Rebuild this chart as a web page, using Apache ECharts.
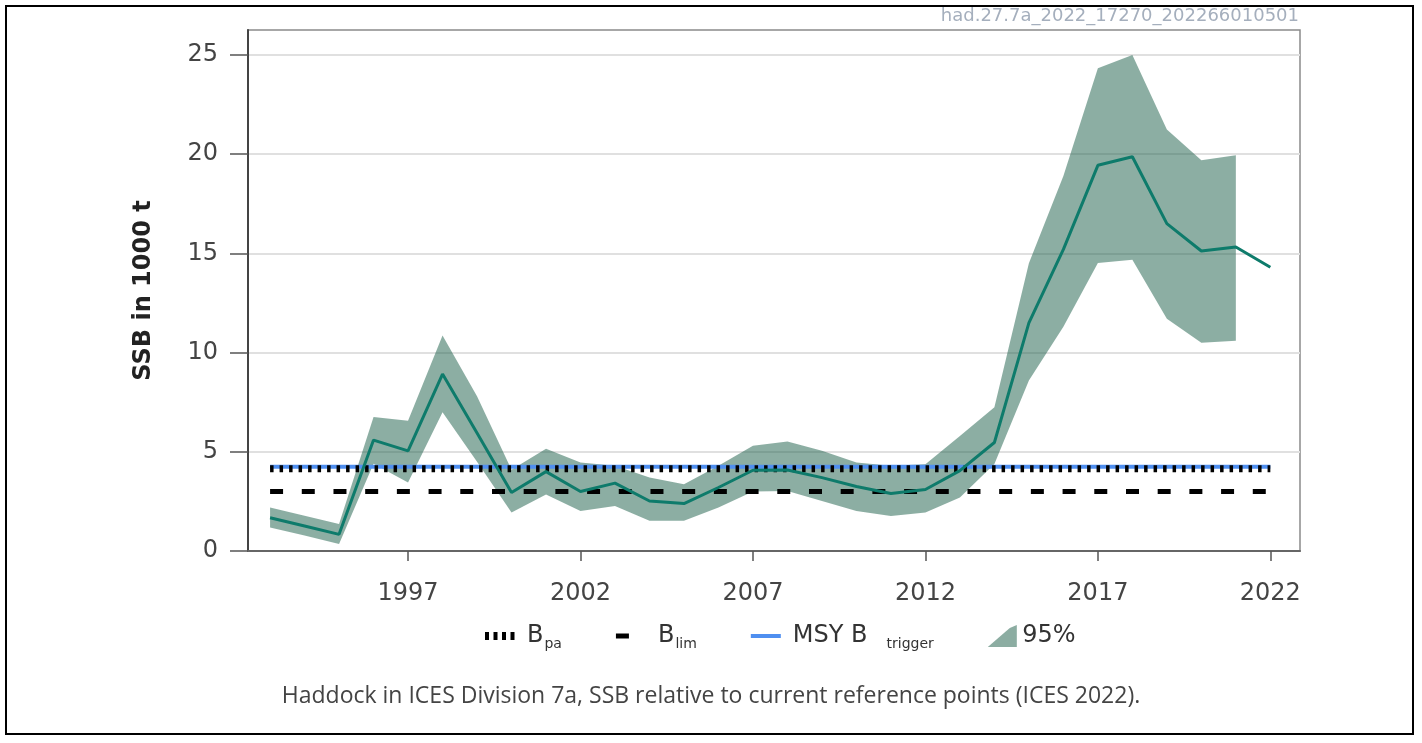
<!DOCTYPE html>
<html><head><meta charset="utf-8">
<script src="https://cdn.jsdelivr.net/npm/echarts@6/dist/echarts.min.js"></script>
<style>html,body{margin:0;padding:0;background:#fff}#c{width:1422px;height:743px}</style>
</head><body><div id="c"></div>
<script>
// ---- data ----
const years = [1993,1994,1995,1996,1997,1998,1999,2000,2001,2002,2003,2004,2005,2006,2007,2008,2009,2010,2011,2012,2013,2014,2015,2016,2017,2018,2019,2020,2021,2022];
const ssb   = [1.68,1.26,0.84,5.59,5.05,8.92,5.95,2.95,4.0,3.0,3.42,2.52,2.39,3.2,4.07,4.08,3.7,3.25,2.9,3.1,4.05,5.47,11.5,15.2,19.44,19.87,16.5,15.12,15.32,14.3];
// 95% interval (1993-2021)
const upper = [2.19,1.78,1.36,6.75,6.57,10.86,7.8,4.1,5.15,4.46,4.3,3.7,3.37,4.3,5.3,5.52,5.05,4.46,4.3,4.37,5.8,7.24,14.5,18.9,24.33,25.0,21.25,19.7,19.95];
const lower = [1.18,0.78,0.35,4.4,3.45,6.99,4.5,1.94,2.85,2.02,2.27,1.52,1.52,2.19,3.0,3.03,2.52,2.02,1.77,1.94,2.7,4.38,8.6,11.3,14.51,14.68,11.7,10.5,10.6];
const Bpa = 4.15;
const Blim = 3.0;
const MSYBtrigger = 4.25;
const xTicks = [1997,2002,2007,2012,2017,2022];
const yTicks = [0,5,10,15,20,25];
const yAxisName = 'SSB in 1000 t';
const caption = 'Haddock in ICES Division 7a, SSB relative to current reference points (ICES 2022).';
const stamp = 'had.27.7a_2022_17270_202266010501';

// ---- build ----
const ssbData = years.map((y,i)=>[y, ssb[i]]);
const bandData = upper.map((v,i)=>[years[i], lower[i], v]);
const refLine = v => [[years[0], v],[years[years.length-1], v]];

const bandColor = 'rgba(25,93,71,0.5)';
const bandLegend = '#8cada2';
const chart = echarts.init(document.getElementById('c'), null, {renderer:'canvas'});
const legendNames = {
  'Bpa': '{a|B}{s|pa}',
  'Blim': '{a|B}{s|lim}',
  'MSY Btrigger': '{a|MSY B}{t|trigger}',
  '95%': '{c|95%}'
};
function renderBand(params, api){
  if (params.dataIndex !== 0) return null;
  const pts = [];
  for (let i = 0; i < bandData.length; i++) pts.push(api.coord([bandData[i][0], bandData[i][2]]));
  for (let i = bandData.length - 1; i >= 0; i--) pts.push(api.coord([bandData[i][0], bandData[i][1]]));
  return {type:'polygon', shape:{points:pts}, style:{fill:bandColor}};
}
chart.setOption({
  animation:false,
  backgroundColor:'#fff',
  grid:{left:248,right:122,top:30,bottom:192,show:true,borderColor:'#8a8a8a',borderWidth:1.5},
  xAxis:{type:'value',min:1992.36,max:2022.86,
    axisLine:{show:true,onZero:false,lineStyle:{color:'#666',width:2}},
    axisTick:{show:true,length:10,customValues:xTicks,lineStyle:{color:'#555',width:1.5}},
    axisLabel:{customValues:xTicks,margin:31,fontSize:24,color:'#444',fontFamily:'DejaVu Sans',formatter:v=>String(v)},
    splitLine:{show:false}},
  yAxis:{type:'value',min:0,max:26.26,interval:5,
    name:yAxisName,nameLocation:'middle',nameGap:92,
    nameTextStyle:{fontSize:24,fontWeight:'bold',color:'#222',fontFamily:'DejaVu Sans'},
    axisLine:{show:true,lineStyle:{color:'#444',width:2}},
    axisTick:{show:true,length:18,customValues:yTicks,lineStyle:{color:'#555',width:1.5}},
    axisLabel:{customValues:yTicks,margin:30,fontSize:24,color:'#444',fontFamily:'DejaVu Sans'},
    splitLine:{show:true,lineStyle:{color:'#e0e0e0',width:2}}},
  legend:{
    left:480, top:619, itemWidth:30, itemHeight:22, itemGap:54,
    itemStyle:{borderWidth:0},
    data:[
      {name:'Bpa',icon:'path://M0,0M30,22M0,7h4v8h-4zM8.5,7h4v8h-4zM17,7h4v8h-4zM25.5,7h4v8h-4z',itemStyle:{color:'#000',opacity:1,borderWidth:0}},
      {name:'Blim',icon:'path://M0,0M30,22M0,8.5h13v5h-13z',itemStyle:{color:'#000',opacity:1,borderWidth:0}},
      {name:'MSY Btrigger',icon:'path://M0,0M30,22M0,9h30v4h-30z',itemStyle:{color:'#4f8ff0',opacity:1,borderWidth:0}},
      {name:'95%',icon:'path://M0,22L22,3L29,0L29,22Z',itemStyle:{color:bandLegend,opacity:1,borderWidth:0}}
    ],
    formatter: n => legendNames[n],
    textStyle:{color:'#333',fontFamily:'DejaVu Sans',fontSize:24,
      rich:{
        a:{fontSize:24,fontFamily:'DejaVu Sans',color:'#333',padding:[0,0,0,7]},
        s:{fontSize:14,fontFamily:'DejaVu Sans',color:'#333',padding:[16,0,0,1]},
        t:{fontSize:14,fontFamily:'DejaVu Sans',color:'#333',padding:[16,0,0,19]},
        c:{fontSize:24,fontFamily:'DejaVu Sans',color:'#333',padding:[0,0,0,0]}
      }}
  },
  series:[
    {name:'95%',type:'custom',data:bandData,encode:{x:0,y:[1,2]},renderItem:renderBand,silent:true,itemStyle:{color:bandLegend},z:2},
    {name:'MSY Btrigger',type:'line',data:refLine(MSYBtrigger),symbol:'none',silent:true,lineStyle:{color:'#4f8ff0',width:4},itemStyle:{color:'#4f8ff0'},z:3},
    {name:'Bpa',type:'line',data:refLine(Bpa),symbol:'none',silent:true,lineStyle:{color:'#000',width:7,type:[3.5,6],cap:'butt'},itemStyle:{color:'#000'},z:4},
    {name:'Blim',type:'line',data:refLine(Blim),symbol:'none',silent:true,lineStyle:{color:'#000',width:5,type:[13,18.7],cap:'butt'},itemStyle:{color:'#000'},z:4},
    {name:'SSB',type:'line',data:ssbData,symbol:'none',silent:true,lineStyle:{color:'#0e7b6b',width:3},itemStyle:{color:'#0e7b6b'},z:5}
  ],
  graphic:[
    {type:'text',x:1299,y:16,z:50,style:{text:stamp,fill:'#a5afbd',font:'18px "DejaVu Sans"',align:'right',verticalAlign:'middle'}},
    {type:'text',x:711,y:696,z:50,style:{text:caption,fill:'#444',font:'23px "Open Sans"',align:'center',verticalAlign:'middle'}},
    {type:'rect',z:99,shape:{x:0,y:0,width:1422,height:6},style:{fill:'#fff'}},
    {type:'rect',z:100,shape:{x:6,y:6,width:1407,height:728},style:{fill:'none',stroke:'#000',lineWidth:2}}
  ]
});
</script></body></html>
